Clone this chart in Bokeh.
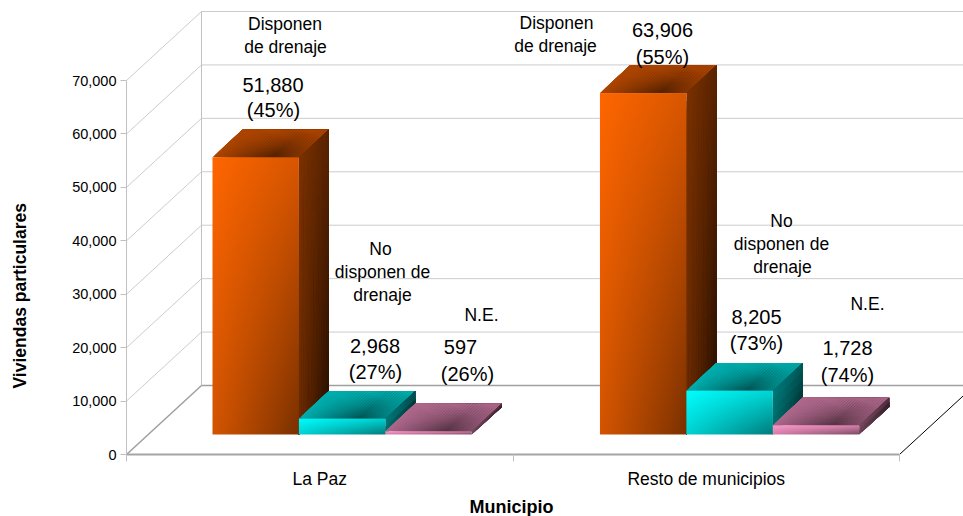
import numpy as np
from bokeh.embed import file_html
from bokeh.resources import INLINE
from bokeh.plotting import figure
from bokeh.models import Range1d, LinearAxis, FixedTicker, Label, Title

categories = ["La Paz", "Resto de municipios"]
disponen = [51880, 63906]
no_disponen = [2968, 8205]
no_especificado = [597, 1728]
y_ticks = [0, 10000, 20000, 30000, 40000, 50000, 60000, 70000]
bar_colors = [(255, 102, 0), (0, 255, 255), (255, 153, 204)]

FONT = "Liberation Sans"
W, H = 955, 508
PX_LEFT, PX_BOTTOM = 126, 454      # page pixels of the axes' origin
PX_CAT = 386.5                     # page pixels per category
PX_UNIT = 374 / 70000              # page pixels per value unit


def fx(px):
    return (px - PX_LEFT) / PX_CAT


def fy(py):
    return (PX_BOTTOM - py) / PX_UNIT


WALL_DX, WALL_DY = 75 / PX_CAT, 69 / PX_UNIT
FLOOR_T = 0.29                     # bar front plane, as part of the depth
BAR_T = 0.40                       # bar depth, as part of the depth
GROUP_OFF = 86 / PX_CAT
BAR_W = 86.4 / PX_CAT

p = figure(width=W, height=H, output_backend="svg", toolbar_location=None,
           x_axis_location=None, y_axis_location=None,
           x_range=Range1d(0, fx(963)), y_range=Range1d(0, fy(8)),
           min_border_left=PX_LEFT - 8, min_border_right=0, min_border_top=0,
           min_border_bottom=508 + 8 - PX_BOTTOM, outline_line_color=None,
           background_fill_color="white", border_fill_color="white")
p.grid.visible = False
p.styles = {"position": "absolute", "left": "8px", "top": "8px"}


def spacer(size):
    # a blank title that only pushes the real one further out
    return Title(text=" ", standoff=size, text_font_size="1px", text_color="white")


# Axes
yax = LinearAxis(ticker=FixedTicker(ticks=y_ticks), bounds=(0, 70000))
yax.major_label_overrides = {v: f"{v:,}" for v in y_ticks}
yax.axis_line_color = "#c0c0c0"
yax.major_tick_line_color = "#c0c0c0"
yax.major_tick_out = 6
yax.major_tick_in = 0
yax.minor_tick_out = 0
yax.minor_tick_in = 0
yax.major_label_standoff = 4
yax.major_label_text_font = FONT
yax.major_label_text_font_size = "14.5px"
yax.major_label_text_color = "black"
p.add_layout(yax, "left")
p.add_layout(spacer(36), "left")

centers = [i + 0.5 for i in range(len(categories))]
xax = LinearAxis(ticker=FixedTicker(ticks=centers, minor_ticks=[0, 1, 2]), bounds=(0, 2))
xax.major_label_overrides = {c: n for c, n in zip(centers, categories)}
xax.axis_line_color = "#a6a6a6"
xax.axis_line_width = 2
xax.major_tick_out = 0
xax.major_tick_in = 0
xax.minor_tick_out = 7
xax.minor_tick_in = 0
xax.minor_tick_line_color = "#c0c0c0"
xax.major_label_standoff = 7
xax.major_label_text_font = FONT
xax.major_label_text_font_size = "17.5px"
xax.major_label_text_color = "black"
p.add_layout(xax, "below")
p.add_layout(spacer(0), "below")

p.add_layout(Title(text="Municipio", align="left", offset=343, standoff=0, vertical_align="bottom",
                   text_font=FONT, text_font_style="bold", text_font_size="18px",
                   text_color="black"), "below")
p.add_layout(Title(text="Viviendas particulares", align="left", offset=66, standoff=0, vertical_align="middle",
                   text_font=FONT, text_font_style="bold", text_font_size="17.5px",
                   text_color="black"), "left")

# Walls
wx = [0, WALL_DX]
for v in y_ticks[1:]:
    p.line(wx, [v, v + WALL_DY], line_color="#cccccc", line_width=1)
    p.line([WALL_DX, fx(963)], [v + WALL_DY, v + WALL_DY], line_color="#cccccc", line_width=1)
p.line([WALL_DX, WALL_DX], [WALL_DY, 70000 + WALL_DY], line_color="#c0c0c0", line_width=1)
p.line(wx, [0, WALL_DY], line_color="#a0a0a0", line_width=1.5)
p.line([WALL_DX, fx(963)], [WALL_DY, WALL_DY], line_color="#a0a0a0", line_width=1.5)
p.line([2, 2 + WALL_DX], [0, WALL_DY], line_color="black", line_width=1)


def hexcol(c, b):
    return "#%02x%02x%02x" % tuple(int(round(max(0, min(255, k * b)))) for k in c)


def front_b(u, v):
    return 1 - 0.15 * u - 0.17 * v - 0.2 * u * v


def top_b(u, w):
    f = min(u / 0.7, 1 - (u - 0.7) / 0.6)
    return 0.68 - 0.36 * (1 - w) * f


def side_b(u, v):
    return 0.48 - 0.13 * u - 0.06 * v - 0.13 * u * v


def shade_face(corner, ax, ay, bx, by, nu, nv, color, shade):
    # every cell reaches the far corner and the next one paints over it: no seams
    xs, ys, cols = [], [], []
    x0, y0 = corner
    for i in range(nu):
        for j in range(nv):
            u0, u1 = i / nu, 1.0
            v0, v1 = j / nv, 1.0
            xs.append([x0 + u0 * ax + v0 * bx, x0 + u1 * ax + v0 * bx,
                       x0 + u1 * ax + v1 * bx, x0 + u0 * ax + v1 * bx])
            ys.append([y0 + u0 * ay + v0 * by, y0 + u1 * ay + v0 * by,
                       y0 + u1 * ay + v1 * by, y0 + u0 * ay + v1 * by])
            cols.append(hexcol(color, float(shade((i + 0.5) / nu, (j + 0.5) / nv))))
    p.patches(xs, ys, fill_color=cols, line_color=None)


def draw_bar(x0, val, color):
    base = FLOOR_T * WALL_DY
    top = base + val
    ddx, ddy = BAR_T * WALL_DX, BAR_T * WALL_DY
    x1 = x0 + BAR_W
    # top face: u along the width, w towards the back
    shade_face((x0, top), BAR_W, 0, ddx, ddy, 28, 12, color, top_b)
    # side face: u towards the back, v downwards
    h_px = val * PX_UNIT
    shade_face((x1, top), ddx, ddy, 0, -val, 12, max(2, int(h_px / 8)), color, side_b)
    # front face
    nw, nh = 87, max(2, int(round(h_px)))
    uu, vv = np.meshgrid((np.arange(nw) + 0.5) / nw, (np.arange(nh) + 0.5) / nh)
    b = front_b(uu, 1 - vv)
    img = np.zeros((nh, nw, 4), dtype=np.uint8)
    for k in range(3):
        img[:, :, k] = np.clip(color[k] * b, 0, 255).astype(np.uint8)
    img[:, :, 3] = 255
    view = img.view(dtype=np.uint32).reshape((nh, nw))
    p.image_rgba(image=[view], x=x0, y=base, dw=BAR_W, dh=val)


for i in range(len(categories)):
    x = i + GROUP_OFF + (0.0 if i == 0 else 0.0025)
    for s, series in enumerate([disponen, no_disponen, no_especificado]):
        draw_bar(x + s * BAR_W, series[i], bar_colors[s])

# Annotations
notes = [
    ("Disponen", 284.5, 23, 17.5), ("de drenaje", 285, 46, 17.5),
    ("51,880", 272.5, 84, 20), ("(45%)", 273, 109, 20),
    ("No", 380, 248, 17.5), ("disponen de", 382, 271, 17.5), ("drenaje", 382, 294, 17.5),
    ("2,968", 374.5, 345, 20), ("(27%)", 375, 371, 20),
    ("N.E.", 481, 314, 17.5), ("597", 460, 346, 20), ("(26%)", 467, 373, 20),
    ("Disponen", 556, 22, 17.5), ("de drenaje", 555, 45, 17.5),
    ("63,906", 662, 29, 20), ("(55%)", 662, 56, 20),
    ("No", 781, 220, 17.5), ("disponen de", 781, 243, 17.5), ("drenaje", 782, 266, 17.5),
    ("8,205", 756, 316.5, 20), ("(73%)", 756, 342, 20),
    ("N.E.", 867, 303, 17.5), ("1,728", 847, 347, 20), ("(74%)", 847, 374, 20),
]
for txt, px, py, size in notes:
    p.add_layout(Label(x=fx(px), y=fy(py), text=txt, text_font=FONT, text_color="black",
                       text_font_size=f"{size}px", text_align="center", text_baseline="middle"))

open("out.html", "w").write(file_html(p, INLINE))
